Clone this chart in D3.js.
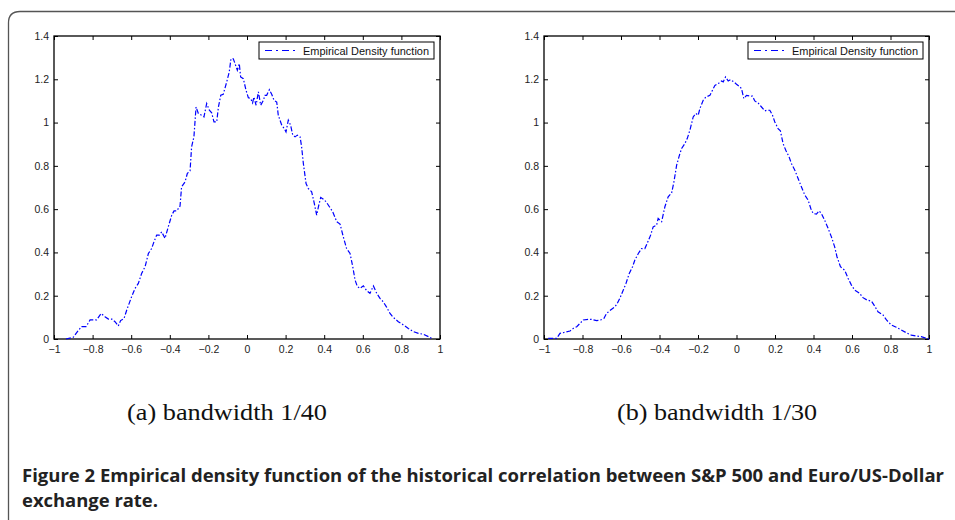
<!DOCTYPE html>
<html>
<head>
<meta charset="utf-8">
<script src="https://cdn.jsdelivr.net/npm/d3@7"></script>
<style>
  html, body { margin: 0; padding: 0; background: #fff; }
  svg { display: block; }
</style>
</head>
<body>
<svg id="chart" width="955" height="520"></svg>
<script>
// ---- data ----
const xTicks = [-1, -0.8, -0.6, -0.4, -0.2, 0, 0.2, 0.4, 0.6, 0.8, 1];
const yTicks = [0, 0.2, 0.4, 0.6, 0.8, 1, 1.2, 1.4];
const legendLabel = "Empirical Density function";
const subCaptions = ["(a) bandwidth 1/40", "(b) bandwidth 1/30"];
const captionLine1 = "Figure 2  Empirical density function of the historical correlation between S&P 500 and Euro/US-Dollar";
const captionLine2 = "exchange rate.";

// bandwidth 1/40
const xA = [-0.938,-0.90,-0.874,-0.857,-0.834,-0.813,-0.779,-0.756,-0.736,-0.718,-0.70,-0.684,-0.667,-0.655,-0.637,-0.623,-0.598,-0.58,-0.563,-0.546,-0.528,-0.511,-0.494,-0.482,-0.468,-0.454,-0.442,-0.425,-0.408,-0.39,-0.378,-0.364,-0.347,-0.339,-0.321,-0.309,-0.295,-0.287,-0.275,-0.264,-0.252,-0.235,-0.223,-0.209,-0.195,-0.183,-0.171,-0.157,-0.148,-0.136,-0.123,-0.105,-0.092,-0.083,-0.071,-0.062,-0.05,-0.04,-0.033,-0.019,-0.005,0.007,0.019,0.029,0.036,0.047,0.059,0.071,0.085,0.093,0.102,0.116,0.128,0.14,0.154,0.162,0.18,0.193,0.202,0.214,0.226,0.237,0.249,0.261,0.275,0.283,0.292,0.306,0.318,0.335,0.347,0.361,0.37,0.382,0.396,0.41,0.427,0.444,0.465,0.482,0.499,0.516,0.534,0.548,0.56,0.572,0.585,0.603,0.62,0.637,0.655,0.672,0.689,0.706,0.724,0.741,0.758,0.784,0.81,0.836,0.862,0.888,0.914,0.94,0.962];
const yA = [0,0.008,0.04,0.057,0.057,0.088,0.088,0.118,0.103,0.092,0.092,0.08,0.06,0.085,0.095,0.134,0.195,0.234,0.257,0.303,0.334,0.395,0.418,0.449,0.48,0.48,0.495,0.465,0.518,0.572,0.592,0.592,0.614,0.703,0.726,0.765,0.777,0.888,0.934,1.072,1.042,1.034,1.026,1.088,1.057,1.045,1.003,1.003,1.072,1.126,1.131,1.188,1.234,1.295,1.295,1.272,1.242,1.272,1.211,1.203,1.149,1.115,1.111,1.091,1.118,1.08,1.142,1.08,1.103,1.126,1.126,1.152,1.131,1.103,1.095,1.034,0.988,0.972,0.957,1.011,0.988,0.942,0.934,0.942,0.934,0.888,0.811,0.718,0.695,0.68,0.634,0.572,0.611,0.654,0.646,0.634,0.611,0.588,0.542,0.531,0.472,0.418,0.395,0.334,0.272,0.242,0.234,0.246,0.223,0.211,0.245,0.211,0.188,0.172,0.146,0.118,0.1,0.08,0.065,0.049,0.034,0.026,0.022,0.011,0.0];

// bandwidth 1/30
const xB = [-0.978,-0.934,-0.917,-0.891,-0.865,-0.848,-0.83,-0.813,-0.796,-0.77,-0.753,-0.727,-0.706,-0.689,-0.675,-0.654,-0.631,-0.619,-0.606,-0.588,-0.574,-0.557,-0.54,-0.528,-0.51,-0.493,-0.476,-0.464,-0.446,-0.433,-0.415,-0.407,-0.389,-0.372,-0.355,-0.337,-0.325,-0.311,-0.294,-0.285,-0.268,-0.256,-0.242,-0.225,-0.211,-0.199,-0.19,-0.173,-0.159,-0.138,-0.125,-0.112,-0.095,-0.078,-0.069,-0.057,-0.043,-0.031,-0.014,0.0,0.014,0.026,0.038,0.052,0.069,0.083,0.095,0.112,0.13,0.147,0.159,0.173,0.187,0.199,0.216,0.228,0.242,0.256,0.273,0.285,0.303,0.32,0.337,0.355,0.372,0.386,0.398,0.415,0.429,0.441,0.458,0.476,0.493,0.51,0.522,0.54,0.562,0.58,0.597,0.614,0.64,0.657,0.678,0.701,0.718,0.735,0.761,0.779,0.804,0.83,0.856,0.882,0.908,0.934,0.96,0.986,1.0];
const yB = [0.003,0.003,0.026,0.031,0.037,0.049,0.057,0.072,0.088,0.091,0.091,0.085,0.088,0.095,0.118,0.134,0.149,0.165,0.188,0.226,0.257,0.303,0.334,0.365,0.395,0.418,0.418,0.442,0.48,0.518,0.526,0.557,0.542,0.611,0.657,0.675,0.726,0.803,0.857,0.88,0.903,0.926,0.965,1.026,1.042,1.034,1.065,1.103,1.118,1.126,1.149,1.172,1.18,1.192,1.188,1.211,1.192,1.198,1.188,1.177,1.168,1.157,1.111,1.126,1.123,1.122,1.1,1.091,1.072,1.054,1.057,1.057,1.034,1.003,0.972,0.962,0.903,0.872,0.842,0.811,0.78,0.742,0.703,0.665,0.642,0.603,0.58,0.577,0.592,0.58,0.549,0.511,0.472,0.426,0.38,0.334,0.318,0.28,0.249,0.226,0.211,0.191,0.18,0.175,0.152,0.126,0.111,0.088,0.065,0.054,0.042,0.029,0.018,0.014,0.011,0.003,0.0];

// ---- drawing ----
const svg = d3.select("#chart");

// outer figure frame (rounded)
svg.append("path")
  .attr("d", "M8.5,520 L8.5,23 Q8.5,11.5 20,11.5 L955,11.5")
  .attr("fill", "none").attr("stroke", "#555").attr("stroke-width", 1.3);

const panels = [
  { left: 54, right: 440, xs: xA, ys: yA, cap: subCaptions[0], capX: 227 },
  { left: 544, right: 929, xs: xB, ys: yB, cap: subCaptions[1], capX: 717 }
];
const plotTop = 36, plotBottom = 339;
const tickFont = "'Liberation Sans', Arial, sans-serif";

panels.forEach(p => {
  const x = d3.scaleLinear().domain([-1, 1]).range([p.left, p.right]);
  const y = d3.scaleLinear().domain([0, 1.4]).range([plotBottom, plotTop]);
  const g = svg.append("g");

  const tl = 4;
  const axB = d3.axisBottom(x).tickValues(xTicks).tickSizeInner(-tl).tickSizeOuter(0)
    .tickPadding(7).tickFormat(d => d3.format("")(d).replace("-", "\u2212"));
  const axT = d3.axisTop(x).tickValues(xTicks).tickSizeInner(-tl).tickSizeOuter(0).tickFormat("");
  const axL = d3.axisLeft(y).tickValues(yTicks).tickSizeInner(-tl).tickSizeOuter(0)
    .tickPadding(5).tickFormat(d => d3.format("")(d));
  const axR = d3.axisRight(y).tickValues(yTicks).tickSizeInner(-tl).tickSizeOuter(0).tickFormat("");

  [[axB, `translate(0,${plotBottom})`], [axT, `translate(0,${plotTop})`],
   [axL, `translate(${p.left},0)`], [axR, `translate(${p.right},0)`]].forEach(([ax, tr]) => {
    const a = g.append("g").attr("transform", tr).call(ax);
    a.select(".domain").remove();
    a.selectAll("line").attr("stroke", "#000").attr("stroke-width", 1);
    a.selectAll("text").attr("font-family", tickFont).attr("font-size", 10.5).attr("fill", "#222");
  });

  g.append("rect").attr("x", p.left).attr("y", plotTop)
    .attr("width", p.right - p.left).attr("height", plotBottom - plotTop)
    .attr("fill", "none").attr("stroke", "#000").attr("stroke-width", 1.3);

  const pts = p.xs.map((v, i) => [v, p.ys[i]]);
  const line = d3.line().x(d => x(d[0])).y(d => y(d[1]));
  g.append("path").datum(pts).attr("d", line)
    .attr("fill", "none").attr("stroke", "#0000ff").attr("stroke-width", 1.2)
    .attr("stroke-dasharray", "5,2,1.5,2");

  const lx = p.right - 181, ly = 42;
  g.append("rect").attr("x", lx).attr("y", ly).attr("width", 175).attr("height", 17)
    .attr("fill", "#fff").attr("stroke", "#000").attr("stroke-width", 1);
  g.append("line").attr("x1", lx + 6).attr("x2", lx + 39).attr("y1", ly + 8.5).attr("y2", ly + 8.5)
    .attr("stroke", "#0000ff").attr("stroke-width", 1.2).attr("stroke-dasharray", "7,4,2,4");
  g.append("text").attr("x", lx + 44).attr("y", ly + 12.5)
    .attr("font-family", tickFont).attr("font-size", 10.5).attr("fill", "#111")
    .attr("textLength", 126).attr("lengthAdjust", "spacingAndGlyphs")
    .text(legendLabel);

  svg.append("text").attr("x", p.capX).attr("y", 420).attr("text-anchor", "middle")
    .attr("font-family", "'Liberation Serif', 'Times New Roman', serif").attr("font-size", 23)
    .attr("fill", "#111")
    .attr("textLength", 200).attr("lengthAdjust", "spacingAndGlyphs")
    .text(p.cap);
});

const capFont = "'Open Sans', 'Noto Sans', sans-serif";
svg.append("text").attr("x", 22).attr("y", 482)
  .attr("font-family", capFont).attr("font-weight", "bold").attr("font-size", 18)
  .attr("fill", "#222").attr("textLength", 922).attr("lengthAdjust", "spacingAndGlyphs")
  .text(captionLine1);
svg.append("text").attr("x", 22).attr("y", 507)
  .attr("font-family", capFont).attr("font-weight", "bold").attr("font-size", 18)
  .attr("fill", "#222").attr("textLength", 136).attr("lengthAdjust", "spacingAndGlyphs")
  .text(captionLine2);
</script>
</body>
</html>
